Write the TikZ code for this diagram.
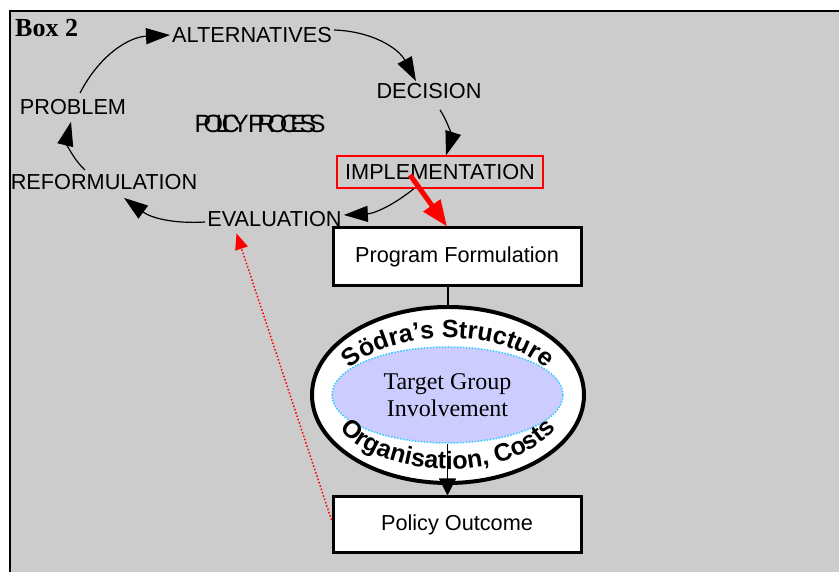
\documentclass[tikz,border=0pt]{standalone}
\usepackage{fontspec}
\setmainfont{Liberation Sans}
\newfontfamily\serifface{Liberation Serif}
\newfontfamily\tightface[LetterSpace=-30]{Liberation Sans}
\usetikzlibrary{arrows.meta,shapes.geometric,decorations.text}

\definecolor{boxgray}{HTML}{CCCCCC}
\definecolor{targetfill}{HTML}{CCCCFF}
\definecolor{dotcyan}{HTML}{33CCFF}
\newcommand\arcfont{\bfseries\fontsize{25}{25}\selectfont}

\begin{document}
\begin{tikzpicture}[x=1pt,y=1pt,
  lbl/.style={inner sep=2pt, font=\fontsize{21.7}{26}\selectfont},
  cyc/.style={-{Triangle[length=24pt,width=16pt]}, line width=1.2pt},
  blockbox/.style={draw, line width=3pt, fill=white, minimum width=248pt, inner sep=0pt, font=\fontsize{21.7}{26}\selectfont}]
\useasboundingbox (0,0) rectangle (839,572);

% grey panel with its frame
\fill[boxgray] (10,0) rectangle (839,561);
\draw[line width=2.2pt] (10,0) -- (10,561) -- (839,561);

\node[anchor=west, inner sep=0pt, font=\serifface\bfseries\fontsize{26}{30}\selectfont] (boxno) at (15,543.5) {Box 2};

% the policy cycle
\node[lbl] (alt) at (252,537) {ALTERNATIVES};
\node[lbl] (dec) at (429,481) {DECISION};
\node[lbl] (prob) at (73,465) {PROBLEM};
\node[lbl] (reform) at (104,390) {REFORMULATION};
\node[lbl] (eval) at (274.5,353) {EVALUATION};
\node[lbl, draw=red, line width=1.2pt, minimum width=206pt, minimum height=32pt] (imp) at (440,400) {IMPLEMENTATION};
\node[font=\tightface\fontsize{25}{28}\selectfont] (pp) at (260,448.5) {POLICY PROCESS};

\draw[cyc] ([shift={(7,4)}]prob.north) to[bend left=30] (alt.west);
\draw[cyc] ([yshift=5]alt.east) to[bend left=30] ([xshift=-13]dec.north);
\draw[cyc] ([shift={(11,-9)}]dec.south) to[bend left=25] ([xshift=6]imp.north);
\draw[cyc] ([xshift=-26]imp.south) to[bend left=18] ([yshift=4]eval.east);
\draw[cyc] ([yshift=-3]eval.west) to[bend left=20] ([shift={(20,-6)}]reform.south);
\draw[cyc] ([shift={(-19,2)}]reform.north) to[bend left=30] ([shift={(-2,-5)}]prob.south);

% programme chain
\node[blockbox, minimum height=58pt] (pf) at (457,315) {Program Formulation};
\node[blockbox, minimum height=56pt] (po) at (457,47) {Policy Outcome};

\node[ellipse, draw, line width=4pt, fill=white, minimum width=272pt, minimum height=176pt, inner sep=0pt] (outer) at (448,177) {};
\draw[line width=1.2pt] (outer.north |- pf.south) -- (outer.north);

\node[ellipse, fill=targetfill, draw=dotcyan, line width=1.5pt, dash pattern=on 1.5pt off 1.5pt,
  minimum width=231pt, minimum height=96pt, align=center,
  font=\serifface\fontsize{24}{27}\selectfont] (inner) at (447.5,177) {Target Group\\Involvement};
\draw[line width=1.2pt, -{Triangle[length=17pt,width=17pt]}] (inner.south) -- (inner.south |- po.north);

% lettering round the ring
\path[decorate, decoration={text along path, text align=center, text={|\arcfont|Södra’s Structure}}]
  ([shift={(165:110 and 57)}]outer.center) arc[start angle=165, end angle=15, x radius=110, y radius=57];
\path[decorate, decoration={text along path, text align=center, text={|\arcfont|Organisation, Costs}}]
  ([shift={(195:122 and 74)}]outer.center) arc[start angle=195, end angle=345, x radius=122, y radius=74];

% red links
\draw[red, line width=5pt, -{Triangle[length=26pt,width=20pt]}] ([shift={(-30,-3)}]imp.center) -- ([xshift=-10]pf.north);
\draw[red, line width=1.5pt, dash pattern=on 1.5pt off 2pt, -{Triangle[length=16pt,width=13pt]}]
  ([yshift=5]po.west) -- ([shift={(-38,-4.5)}]eval.south);
\end{tikzpicture}
\end{document}
